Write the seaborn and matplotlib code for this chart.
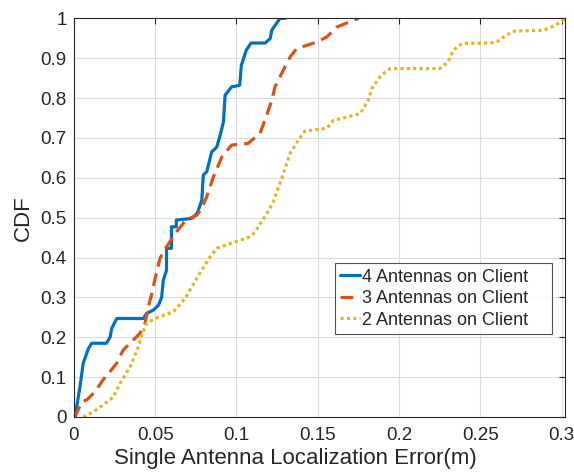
import matplotlib
matplotlib.use("Agg")
import matplotlib.pyplot as plt
import seaborn as sns
import pandas as pd

# 4 antennas on client
x4 = [0.0, 0.0007, 0.0038, 0.0058, 0.009, 0.011, 0.020, 0.0223, 0.0233, 0.0264, 0.0427, 0.0448, 0.0489,
      0.052, 0.054, 0.055, 0.057, 0.057, 0.060, 0.060, 0.063, 0.063, 0.0725, 0.0756, 0.0766, 0.0787,
      0.0796, 0.0817, 0.0848, 0.0879, 0.090, 0.092, 0.093, 0.097, 0.102, 0.103, 0.105, 0.106, 0.109,
      0.1176, 0.1207, 0.1217, 0.1237, 0.1268, 0.1300]
y4 = [0.0, 0.0, 0.076, 0.135, 0.172, 0.185, 0.185, 0.20, 0.222, 0.247, 0.247, 0.26, 0.268,
      0.28, 0.30, 0.343, 0.368, 0.423, 0.423, 0.477, 0.477, 0.494, 0.498, 0.51, 0.519, 0.544,
      0.607, 0.615, 0.665, 0.677, 0.707, 0.74, 0.807, 0.828, 0.832, 0.882, 0.907, 0.92, 0.938,
      0.938, 0.949, 0.97, 0.982, 1.0, 1.0]

# 3 antennas on client
x3 = [0.0, 0.0007, 0.0049, 0.008, 0.013, 0.018, 0.0223, 0.0264, 0.0304, 0.0346, 0.0407, 0.0438,
      0.0458, 0.048, 0.050, 0.053, 0.057, 0.064, 0.069, 0.0756, 0.0787, 0.0817, 0.0858, 0.091,
      0.097, 0.107, 0.1145, 0.1186, 0.1217, 0.1237, 0.1288, 0.133, 0.137, 0.149, 0.1555, 0.1617,
      0.1719, 0.175]
y3 = [0.0, 0.0, 0.038, 0.043, 0.063, 0.093, 0.114, 0.135, 0.168, 0.185, 0.21, 0.235,
      0.276, 0.31, 0.348, 0.398, 0.427, 0.469, 0.494, 0.506, 0.524, 0.552, 0.602, 0.652,
      0.682, 0.686, 0.711, 0.757, 0.794, 0.828, 0.87, 0.903, 0.924, 0.94, 0.953, 0.978,
      0.995, 1.0]

# 2 antennas on client
x2 = [0.0058, 0.012, 0.018, 0.0243, 0.0284, 0.0346, 0.0397, 0.0417, 0.0448, 0.050, 0.0612, 0.0684,
      0.0756, 0.0838, 0.0879, 0.096, 0.1084, 0.1114, 0.1186, 0.1227, 0.1278, 0.133, 0.138, 0.142,
      0.1555, 0.1596, 0.1657, 0.176, 0.1811, 0.1832, 0.186, 0.189, 0.1945, 0.225, 0.230, 0.2334,
      0.2386, 0.256, 0.261, 0.266, 0.271, 0.2887, 0.2959, 0.302]
y2 = [0.0, 0.013, 0.03, 0.05, 0.084, 0.126, 0.176, 0.205, 0.235, 0.247, 0.264, 0.297,
      0.348, 0.402, 0.423, 0.435, 0.452, 0.464, 0.51, 0.54, 0.598, 0.661, 0.694, 0.717,
      0.724, 0.744, 0.75, 0.761, 0.794, 0.824, 0.84, 0.857, 0.874, 0.874, 0.89, 0.92,
      0.937, 0.938, 0.943, 0.958, 0.968, 0.97, 0.982, 0.998]

labels = ["4 Antennas on Client", "3 Antennas on Client", "2 Antennas on Client"]
xticks = [0, 0.05, 0.1, 0.15, 0.2, 0.25, 0.3]
xticklabels = ["0", "0.05", "0.1", "0.15", "0.2", "0.25", "0.3"]
yticks = [0, 0.1, 0.2, 0.3, 0.4, 0.5, 0.6, 0.7, 0.8, 0.9, 1.0]
yticklabels = ["0", "0.1", "0.2", "0.3", "0.4", "0.5", "0.6", "0.7", "0.8", "0.9", "1"]

sns.set_style("white")
plt.rcParams['font.family'] = ['Liberation Sans', 'DejaVu Sans']

fig = plt.figure(figsize=(5.74, 4.74), dpi=100)
ax = fig.add_axes([0.1286, 0.1203, 0.9843 - 0.1286, 0.9614 - 0.1203])

colors = ["#0072BD", "#D95319", "#EDB120"]
styles = [(None, "-"), ((4, 2.2), "--"), ((1, 1), ":")]
for xs, ys, lab, col, (dash, ls) in zip([x4, x3, x2], [y4, y3, y2], labels, colors, styles):
    df = pd.DataFrame({"x": xs, "y": ys})
    sns.lineplot(data=df, x="x", y="y", ax=ax, sort=False, color=col, lw=2.3,
                 label=lab, estimator=None)
    l = ax.get_lines()[-1]
    l.set_linestyle(ls)
    if dash is not None:
        l.set_dashes(dash)

ax.set_xlim(0, 0.302)
ax.set_ylim(0, 1)
ax.set_xticks(xticks)
ax.set_xticklabels(xticklabels)
ax.set_yticks(yticks)
ax.set_yticklabels(yticklabels)
ax.grid(True, color="#dcdcdc", lw=0.8)
ax.set_axisbelow(True)
for s in ax.spines.values():
    s.set_color("#262626")
    s.set_linewidth(0.8)
ax.tick_params(direction="in", length=4, width=0.8, colors="#262626", labelsize=13.5,
               top=True, right=True, labelcolor="#262626")
ax.tick_params(axis="x", pad=7)
ax.tick_params(axis="y", pad=5)
ax.set_xlabel("Single Antenna Localization Error(m)", fontsize=16, color="#262626", labelpad=2)
ax.xaxis.set_label_coords(0.452, -0.077, transform=ax.transAxes)
ax.xaxis.label.set_verticalalignment("top")
ax.set_ylabel("CDF", fontsize=16, color="#262626", labelpad=5)

# legend box (axes fraction)
lx0 = (335 - 73.8) / (565 - 73.8)
lw_ = (552 - 335) / (565 - 73.8)
ly0 = 1 - (331 - 18.3) / (417 - 18.3)
lh = (331 - 263.3) / (417 - 18.3)
leg = ax.legend(loc="upper left", bbox_to_anchor=(lx0, ly0, lw_, lh), mode="expand",
                fontsize=13, frameon=True, fancybox=False, handlelength=1.1, handletextpad=0.1,
                borderpad=0.3, labelspacing=0.25, borderaxespad=0)
leg.get_frame().set_edgecolor("#262626")
leg.get_frame().set_linewidth(0.8)

fig.savefig("out.png", dpi=100)
